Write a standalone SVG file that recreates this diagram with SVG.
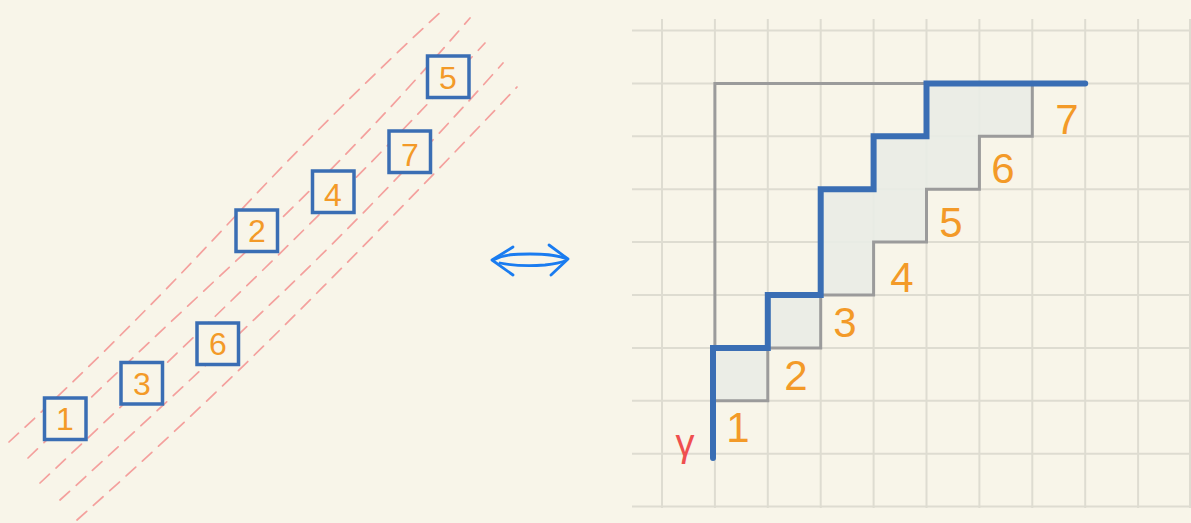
<svg xmlns="http://www.w3.org/2000/svg" width="1191" height="523" viewBox="0 0 1191 523">
<style>
.bg{fill:#f8f5e9}
.grid{stroke:#dedcd1;stroke-width:2;fill:none}
.dash{stroke:#f4a09d;stroke-width:1.7;fill:none;stroke-dasharray:13 9;stroke-linecap:round}
.box{fill:#f8f5e9;stroke:#3a6eb4;stroke-width:3.5}
.num{font-family:"Liberation Sans","DejaVu Sans",sans-serif;fill:#f39a28;text-anchor:middle}
.bn{font-size:32px}
.rn{font-size:42px}
.gray{stroke:#9b9b9b;stroke-width:3;fill:none;stroke-linejoin:miter}
.blue{stroke:#3a6eb4;stroke-width:6;fill:none;stroke-linecap:round;stroke-linejoin:miter}
.arrow{stroke:#1a7cf0;stroke-width:2.8;fill:none;stroke-linecap:round;stroke-linejoin:round}
</style>
<rect class="bg" x="0" y="0" width="1191" height="523"/>

<g id="dashed-lines">
<path class="dash" d="M9 442 Q120 340 227 225 T445 8"/>
<path class="dash" d="M28 458 Q140 350 250 248 T470 18"/>
<path class="dash" d="M40 483 Q150 380 265 268 T485 43"/>
<path class="dash" d="M60 500 Q170 400 280 295 T503 63"/>
<path class="dash" d="M77 520 Q190 420 300 310 T517 87"/>
</g>

<g id="box-1"><rect class="box" x="44.5" y="398" width="41.5" height="41.5"/><text class="num bn" x="65" y="430">1</text></g>
<g id="box-3"><rect class="box" x="121" y="362.5" width="41.5" height="41.5"/><text class="num bn" x="142" y="395">3</text></g>
<g id="box-6"><rect class="box" x="197" y="323" width="41.5" height="41.5"/><text class="num bn" x="218" y="355">6</text></g>
<g id="box-2"><rect class="box" x="236" y="210" width="41.5" height="41.5"/><text class="num bn" x="257" y="242">2</text></g>
<g id="box-4"><rect class="box" x="312.5" y="171" width="41.5" height="41.5"/><text class="num bn" x="333" y="206">4</text></g>
<g id="box-7"><rect class="box" x="389" y="131" width="41.5" height="41.5"/><text class="num bn" x="410" y="166">7</text></g>
<g id="box-5"><rect class="box" x="427.5" y="56" width="41.5" height="41.5"/><text class="num bn" x="448" y="89">5</text></g>

<g id="connectors">
<path class="arrow" d="M493 260 C505 254 515 254 530 254 C548 254 558 255 567 259"/>
<path class="arrow" d="M500 263 C515 266 530 266 545 265 C553 264 560 263 565 261"/>
<path class="arrow" d="M513 247 L492 260 L513 275"/>
<path class="arrow" d="M549 245 L568 259 L551 275"/>
</g>

<g id="grid">
<path class="grid" d="M632 30.5H1191M632 83.4H1191M632 136.3H1191M632 189.2H1191M632 242.1H1191M632 295H1191M632 347.9H1191M632 400.8H1191M632 453.7H1191M632 506.6H1191"/>
<path class="grid" d="M662 19V508M714.9 19V508M767.8 19V508M820.7 19V508M873.6 19V508M926.5 19V508M979.4 19V508M1032.3 19V508M1085.2 19V508M1138.1 19V508M1190 19V508"/>
</g>

<g id="lattice-path">
<path fill="#e9ece5" fill-opacity="0.9" d="M714.9 400.8V347.9H767.8V295H820.7V189.2H873.6V136.3H926.5V83.4H1032.3V136.3H979.4V189.2H926.5V242.1H873.6V295H820.7V347.9H767.8V400.8Z"/>
<path class="gray" d="M714.9 347.9V83.4H926.5"/>
<path class="gray" d="M714.9 400.8H767.8V347.9H820.7V295H873.6V242.1H926.5V189.2H979.4V136.3H1032.3V83.4"/>
<path class="blue" d="M713 458V347.9H767.8V295H820.7V189.2H873.6V136.3H926.5V83.4H1085.2"/>
</g>

<g id="labels">
<text class="num rn" x="738" y="442">1</text>
<text class="num rn" x="796" y="390">2</text>
<text class="num rn" x="845" y="337">3</text>
<text class="num rn" x="902" y="292">4</text>
<text class="num rn" x="951" y="237">5</text>
<text class="num rn" x="1003" y="183">6</text>
<text class="num rn" x="1067" y="134">7</text>
<text x="685" y="456" font-family="Liberation Sans, DejaVu Sans, sans-serif" font-size="38" fill="#ef4f4f" text-anchor="middle">γ</text>
</g>
</svg>
